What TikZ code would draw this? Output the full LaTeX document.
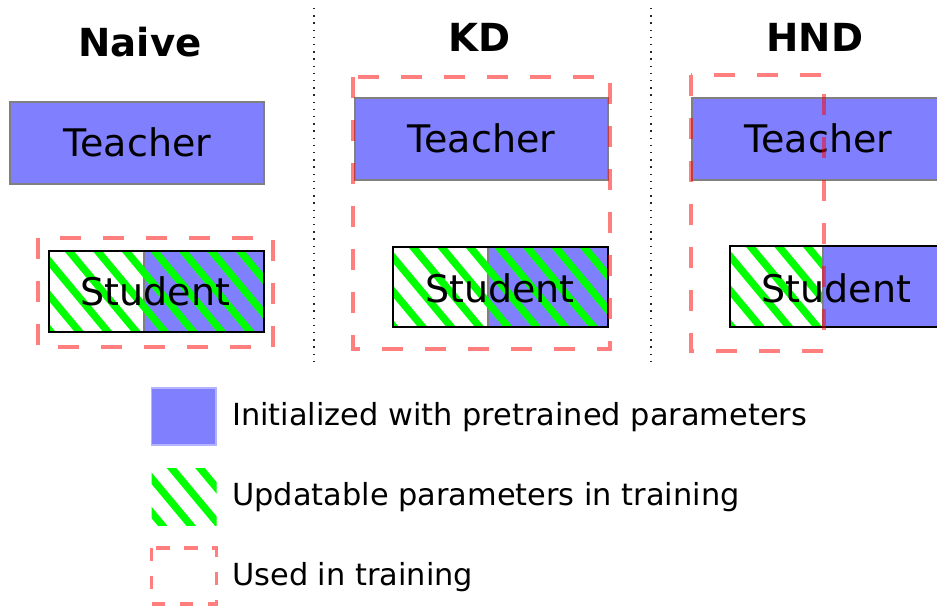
\documentclass[tikz,border=0pt]{standalone}
\usepackage{fontspec}
\setmainfont{DejaVu Sans}
\definecolor{myblue}{RGB}{128,128,255}
\definecolor{mygreen}{RGB}{0,255,0}
\newcommand\hatchrect[4]{%
  \begin{scope}
    \clip (#1,#2) rectangle (#3,#4);
    \foreach \k in {-4,...,12}{
      \draw[stripe] ({#1+20+\k*28.5-8.33},{#2-10}) -- ++(125,150);
    }
  \end{scope}}
\begin{document}
\begin{tikzpicture}[x=0.75pt,y=-0.75pt,
  teacherbox/.style={fill=myblue, draw=gray, line width=1.1pt},
  bluepart/.style={fill=myblue, draw=gray, line width=0.8pt},
  studentframe/.style={draw=black, line width=1.5pt},
  usedbox/.style={draw=red, draw opacity=0.5, line width=2.5pt, dash pattern=on 15.75pt off 16.5pt},
  legdash/.style={draw=red, draw opacity=0.5, line width=2.5pt, dash pattern=on 10pt off 11pt},
  stripe/.style={draw=mygreen, line width=5.5pt},
  sep/.style={draw=black!85, line width=1.1pt, dash pattern=on 1.1pt off 4.3pt},
  title/.style={font=\fontsize{29}{34}\selectfont\bfseries, anchor=base, inner sep=0},
  lbl/.style={font=\fontsize{28.5}{34}\selectfont, anchor=base, inner sep=0},
  legtext/.style={font=\fontsize{22.8}{27}\selectfont, anchor=base west, inner sep=0}]
\useasboundingbox (0,0) rectangle (937,609);
\clip (0,0) rectangle (937,609);

% separators
\coordinate (s1t) at (314,8); \coordinate (s1b) at (314,362);
\coordinate (s2t) at (651,8); \coordinate (s2b) at (651,362);
\draw[sep] (s1t) -- (s1b);
\draw[sep] (s2t) -- (s2b);

% titles
\node[title] (tnaive) at (140,57) {Naive};
\node[title] (tkd) at (480,52) {KD};
\node[title] (thnd) at (815,52) {HND};

% Naive
\draw[teacherbox] (10,102) rectangle (264,184);
\node[lbl] (teachA) at (137.5,157) {Teacher};
\fill[white] (49,251) rectangle (144,332);
\draw[bluepart] (144,251) rectangle (264,332);
\hatchrect{49}{251}{264}{332}
\draw[studentframe] (49,251) rectangle (264,332);
\node[lbl] (studA) at (155.5,305) {Student};
\draw[usedbox] (38,238) rectangle (273,347);

% KD
\draw[teacherbox] (355,98) rectangle (608,180);
\node[lbl] (teachB) at (481.5,153) {Teacher};
\fill[white] (393,247) rectangle (488,327);
\draw[bluepart] (488,247) rectangle (608,327);
\hatchrect{393}{247}{608}{327}
\draw[studentframe] (393,247) rectangle (608,327);
\node[lbl] (studB) at (500,302) {Student};
\draw[usedbox] (353,77) rectangle (610,349);

% HND
\draw[teacherbox] (692,98) rectangle (945,180);
\node[lbl] (teachC) at (818.5,153) {Teacher};
\fill[white] (730,246) rectangle (823,327);
\hatchrect{730}{246}{823}{327}
\draw[bluepart] (823,246) rectangle (945,327);
\draw[studentframe] (730,246) rectangle (945,327);
\node[lbl] (studC) at (836.5,302) {Student};
\draw[usedbox] (691,75) rectangle (824,351);

% legend
\draw[fill=myblue, draw=myblue!60, line width=0.8pt] (151.5,388) rectangle (216,445);
\hatchrect{151.5}{468}{216.5}{525}
\draw[legdash] (151.5,548) rectangle (216.5,604);
\node[legtext] (l1) at (232,425) {Initialized with pretrained parameters};
\node[legtext] (l2) at (232,505) {Updatable parameters in training};
\node[legtext] (l3) at (232,585) {Used in training};
\end{tikzpicture}
\end{document}
